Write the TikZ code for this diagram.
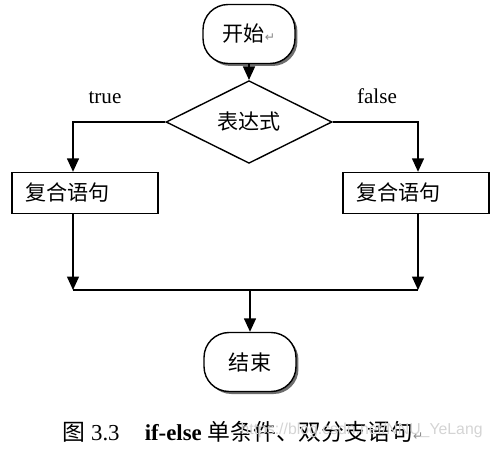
\documentclass[tikz,border=0pt]{standalone}
\usepackage{fontspec}
\setmainfont{Liberation Serif}
\newfontfamily\cjk{Noto Sans CJK SC}
\newfontfamily\symfont{DejaVu Sans}
\newfontfamily\wmfont{Liberation Sans}
\usetikzlibrary{positioning, arrows.meta, shapes.geometric, shadows}
\definecolor{shadowgray}{HTML}{6E6E6E}
\definecolor{markgray}{HTML}{8A8A8A}
\definecolor{wmgray}{HTML}{D4D4D4}
\newcommand{\parmark}{{\symfont\scriptsize\color{markgray}↵}}

\begin{document}
\begin{tikzpicture}[x=0.02cm, y=-0.02cm,
    line width=0.8pt, >={Triangle[length=0.27cm, width=0.24cm]},
    terminal/.style={draw, fill=white, rounded corners=0.5cm,
      minimum width=1.84cm, minimum height=1.18cm, font=\cjk\large,
      drop shadow={shadow xshift=0.05cm, shadow yshift=-0.05cm, fill=shadowgray, opacity=1}},
    decision/.style={draw, diamond, minimum width=3.32cm, minimum height=1.24cm,
      inner sep=0pt, font=\cjk\large},
    block/.style={draw, minimum width=2.92cm, minimum height=0.82cm,
      text width=2.4cm, align=left, font=\cjk\large},
    branch/.style={font=\large}]
  \useasboundingbox (0,0) rectangle (499,450);

  \node[terminal] (start) at (249,34) {开始\parmark};
  \node[decision] (cond) at (249,122) {表达式};
  \node[block] (tbox) at (85,193) {复合语句};
  \node[block] (fbox) at (416,193) {复合语句};
  \node[terminal] (stop) at (250,362) {结束};
  \node[branch] (tlabel) at (105,98) {true};
  \node[branch] (flabel) at (377,96) {false};
  \coordinate (tjoin) at (73,290);
  \coordinate (fjoin) at (418,290);
  \coordinate (mjoin) at (250,291);

  \draw[->] (start) -- (cond);
  \draw[->] (cond.west) -| (tbox.north -| tjoin);
  \draw[->] (cond.east) -| (fbox.north -| fjoin);
  \draw[->] (tbox.south -| tjoin) -- (tjoin);
  \draw[->] (fbox.south -| fjoin) -- (fjoin);
  \draw (tjoin) -- (fjoin);
  \draw[->] (mjoin) -- (stop);

  % caption and watermark
  \node[anchor=west, font=\fontsize{13}{15}\selectfont] (caption) at (56,432)
    {{\cjk 图} 3.3\hspace{1.1em}\textbf{if-else} {\cjk 单条件、双分支语句}\parmark};
  \node[anchor=west, font=\wmfont\small, text=wmgray] (wmark) at (234,430)
    {https://blog.csdn.net/NNU\_YeLang};
\end{tikzpicture}
\end{document}
